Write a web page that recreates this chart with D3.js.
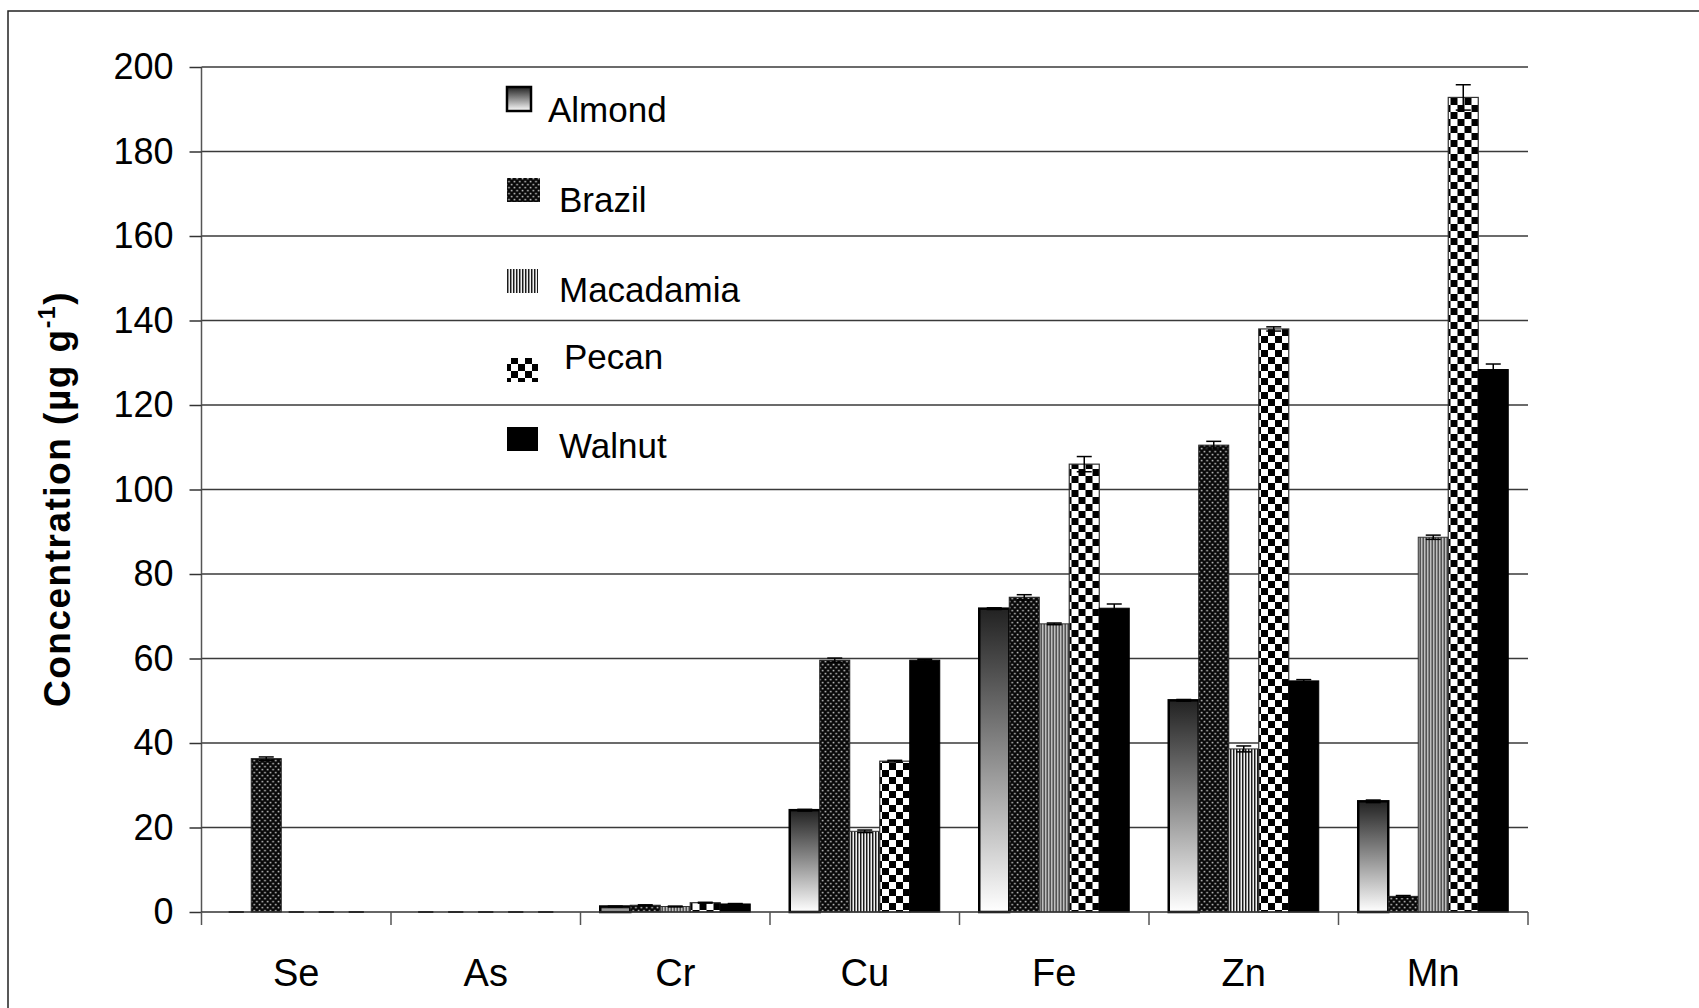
<!DOCTYPE html>
<html lang="en">
<head>
<meta charset="utf-8">
<title>Nut element concentrations</title>
<script src="https://cdnjs.cloudflare.com/ajax/libs/d3/7.8.5/d3.min.js"></script>
<style>
  html, body { margin: 0; padding: 0; background: #fff; overflow: hidden; }
  svg { display: block; font-family: "Liberation Sans", Arial, sans-serif; }
</style>
</head>
<body>
<div id="chart"></div>
<script>
// element categories along the x axis
const elements = ['Se', 'As', 'Cr', 'Cu', 'Fe', 'Zn', 'Mn'];
const nuts = ['Almond', 'Brazil', 'Macadamia', 'Pecan', 'Walnut'];

// concentrations (µg g-1), one array per nut, in element order
const almond    = [0, 0, 1.3, 24.1, 71.8, 50.1, 26.2];
const brazil    = [36.3, 0, 1.6, 59.6, 74.5, 110.5, 3.7];
const macadamia = [0, 0, 1.3, 19.1, 68.2, 38.6, 88.7];
const pecan     = [0, 0, 2.2, 35.7, 106.0, 138.0, 192.8];
const walnut    = [0, 0, 1.9, 59.6, 71.9, 54.7, 128.4];

// error bar half-lengths
const almondErr    = [0, 0, 0.1, 0.2, 0.2, 0.2, 0.3];
const brazilErr    = [0.4, 0, 0.1, 0.5, 0.6, 0.9, 0.2];
const macadamiaErr = [0, 0, 0.1, 0.3, 0.2, 0.7, 0.5];
const pecanErr     = [0, 0, 0.1, 0.2, 1.8, 0.5, 3.0];
const walnutErr    = [0, 0, 0.1, 0.2, 1.0, 0.3, 1.3];

const yTicks = [0, 20, 40, 60, 80, 100, 120, 140, 160, 180, 200];

const values = [almond, brazil, macadamia, pecan, walnut];
const errors = [almondErr, brazilErr, macadamiaErr, pecanErr, walnutErr];

const W = 1699, H = 1008;
const plotL = 201.5, plotR = 1528, plotT = 67, plotB = 912;

const svg = d3.select('#chart').append('svg')
  .attr('width', W).attr('height', H);

// fills
const defs = svg.append('defs');
const grad = defs.append('linearGradient').attr('id', 'g-almond')
  .attr('x1', 0).attr('y1', 0).attr('x2', 0).attr('y2', 1);
grad.append('stop').attr('offset', '0%').attr('stop-color', '#222');
grad.append('stop').attr('offset', '50%').attr('stop-color', '#8f8f8f');
grad.append('stop').attr('offset', '100%').attr('stop-color', '#ffffff');

const pBrazil = defs.append('pattern').attr('id', 'p-brazil')
  .attr('patternUnits', 'userSpaceOnUse').attr('width', 5.4).attr('height', 6);
pBrazil.append('rect').attr('width', 5.4).attr('height', 6).attr('fill', '#080808');
pBrazil.append('rect').attr('x', 0.6).attr('y', 0.8).attr('width', 1.6).attr('height', 1.6).attr('fill', '#bdbdbd');
pBrazil.append('rect').attr('x', 3.3).attr('y', 3.8).attr('width', 1.6).attr('height', 1.6).attr('fill', '#bdbdbd');

const pMac = defs.append('pattern').attr('id', 'p-mac')
  .attr('patternUnits', 'userSpaceOnUse').attr('width', 3).attr('height', 3);
pMac.append('rect').attr('width', 3).attr('height', 3).attr('fill', '#f0f0f0');
pMac.append('rect').attr('width', 1).attr('height', 3).attr('fill', '#1a1a1a');
pMac.append('rect').attr('x', 1).attr('width', 1).attr('height', 3).attr('fill', '#8c8c8c');

const pPecan = defs.append('pattern').attr('id', 'p-pecan')
  .attr('patternUnits', 'userSpaceOnUse').attr('width', 14).attr('height', 14);
pPecan.append('rect').attr('width', 14).attr('height', 14).attr('fill', '#fff');
pPecan.append('rect').attr('width', 7).attr('height', 7).attr('fill', '#000');
pPecan.append('rect').attr('x', 7).attr('y', 7).attr('width', 7).attr('height', 7).attr('fill', '#000');

const fills = ['url(#g-almond)', 'url(#p-brazil)', 'url(#p-mac)', 'url(#p-pecan)', '#000'];
const strokes = ['#000', '#222', '#333', '#333', '#000'];
const strokeW = [2.5, 1, 1, 1.2, 1];

// outer frame
svg.append('rect')
  .attr('x', 8).attr('y', 11).attr('width', W + 10).attr('height', H + 10)
  .attr('fill', 'none').attr('stroke', '#222').attr('stroke-width', 1.5);

const x0 = d3.scaleBand().domain(elements).range([plotL, plotR]).padding(0);
const x1 = d3.scaleBand().domain(nuts)
  .range([19.75, x0.bandwidth() - 19.75]).padding(0);
const y = d3.scaleLinear().domain([0, 200]).range([plotB, plotT]);

// gridlines
svg.append('g').selectAll('line')
  .data(yTicks.filter(d => d > 0))
  .enter().append('line')
  .attr('x1', plotL).attr('x2', plotR)
  .attr('y1', d => y(d)).attr('y2', d => y(d))
  .attr('stroke', '#3a3a3a').attr('stroke-width', 1.5);

// y axis
const yAxis = d3.axisLeft(y).tickValues(yTicks).tickSize(12).tickPadding(16);
const gy = svg.append('g').attr('transform', 'translate(' + plotL + ',0)').call(yAxis);
gy.select('.domain').attr('stroke', '#555').attr('stroke-width', 1.5).attr('d', 'M0,' + plotT + 'V' + plotB);
gy.selectAll('.tick line').attr('stroke', '#333').attr('stroke-width', 1.5);
gy.selectAll('.tick text').attr('font-size', 36).attr('fill', '#000')
  .attr('font-family', '"Liberation Sans", Arial, sans-serif');

// bars
const groups = svg.append('g').selectAll('g')
  .data(elements)
  .enter().append('g')
  .attr('transform', d => 'translate(' + x0(d) + ',0)');

const barData = (el, i) => nuts.map((n, k) => ({ nut: n, k: k, v: values[k][i], e: errors[k][i] }));

groups.selectAll('rect')
  .data(barData)
  .enter().append('rect')
  .attr('x', d => x1(d.nut))
  .attr('width', x1.bandwidth())
  .attr('y', d => y(d.v))
  .attr('height', d => y(0) - y(d.v))
  .attr('fill', d => fills[d.k])
  .attr('stroke', d => d.v > 0 ? strokes[d.k] : 'none')
  .attr('stroke-width', d => strokeW[d.k]);

// error bars
const eb = groups.selectAll('g.err')
  .data(barData)
  .enter().append('g').attr('class', 'err')
  .attr('stroke', '#000').attr('stroke-width', 1.5);
const cx = d => x1(d.nut) + x1.bandwidth() / 2;
eb.append('line')
  .attr('x1', cx).attr('x2', cx)
  .attr('y1', d => y(d.v + d.e)).attr('y2', d => y(Math.max(0, d.v - d.e)));
eb.append('line')
  .attr('x1', d => cx(d) - 7.5).attr('x2', d => cx(d) + 7.5)
  .attr('y1', d => y(d.v + d.e)).attr('y2', d => y(d.v + d.e));
eb.append('line')
  .attr('x1', d => cx(d) - 7.5).attr('x2', d => cx(d) + 7.5)
  .attr('y1', d => y(Math.max(0, d.v - d.e))).attr('y2', d => y(Math.max(0, d.v - d.e)));

// x axis
svg.append('line')
  .attr('x1', plotL).attr('x2', plotR).attr('y1', plotB).attr('y2', plotB)
  .attr('stroke', '#333').attr('stroke-width', 1.5);
svg.append('g').selectAll('line')
  .data(elements.map(d => x0(d)).concat([plotR]))
  .enter().append('line')
  .attr('x1', d => d).attr('x2', d => d)
  .attr('y1', plotB).attr('y2', plotB + 13)
  .attr('stroke', '#555').attr('stroke-width', 1.5);
const xAxis = d3.axisBottom(x0).tickSize(0).tickPadding(47);
const gx = svg.append('g').attr('transform', 'translate(0,' + plotB + ')').call(xAxis);
gx.select('.domain').remove();
gx.selectAll('.tick text').attr('font-size', 38).attr('fill', '#000')
  .attr('font-family', '"Liberation Sans", Arial, sans-serif');

// y title
const title = svg.append('text')
  .attr('transform', 'translate(70,499) rotate(-90)')
  .attr('text-anchor', 'middle')
  .attr('font-size', 37).attr('font-weight', 'bold')
  .attr('letter-spacing', 1.5);
title.append('tspan').text('Concentration  (µg g');
title.append('tspan').attr('font-size', 23).attr('dy', -15).text('-1');
title.append('tspan').attr('dy', 15).text(')');

// legend
const legSwatchY = [87, 178, 269, 358, 427];
const legSwatchW = [24, 33, 31, 31, 31];
const legTextX = [548, 559, 559, 564, 559];
const legTextY = [122, 212, 302, 369, 458];
const leg = svg.append('g').selectAll('g')
  .data(nuts)
  .enter().append('g');
leg.append('rect')
  .attr('x', 507).attr('y', (d, i) => legSwatchY[i])
  .attr('width', (d, i) => legSwatchW[i]).attr('height', 24)
  .attr('fill', (d, i) => fills[i])
  .attr('stroke', (d, i) => i === 0 ? '#000' : 'none')
  .attr('stroke-width', 2.5);
leg.append('text')
  .attr('x', (d, i) => legTextX[i]).attr('y', (d, i) => legTextY[i])
  .attr('font-size', 35)
  .text(d => d);
</script>
</body>
</html>
